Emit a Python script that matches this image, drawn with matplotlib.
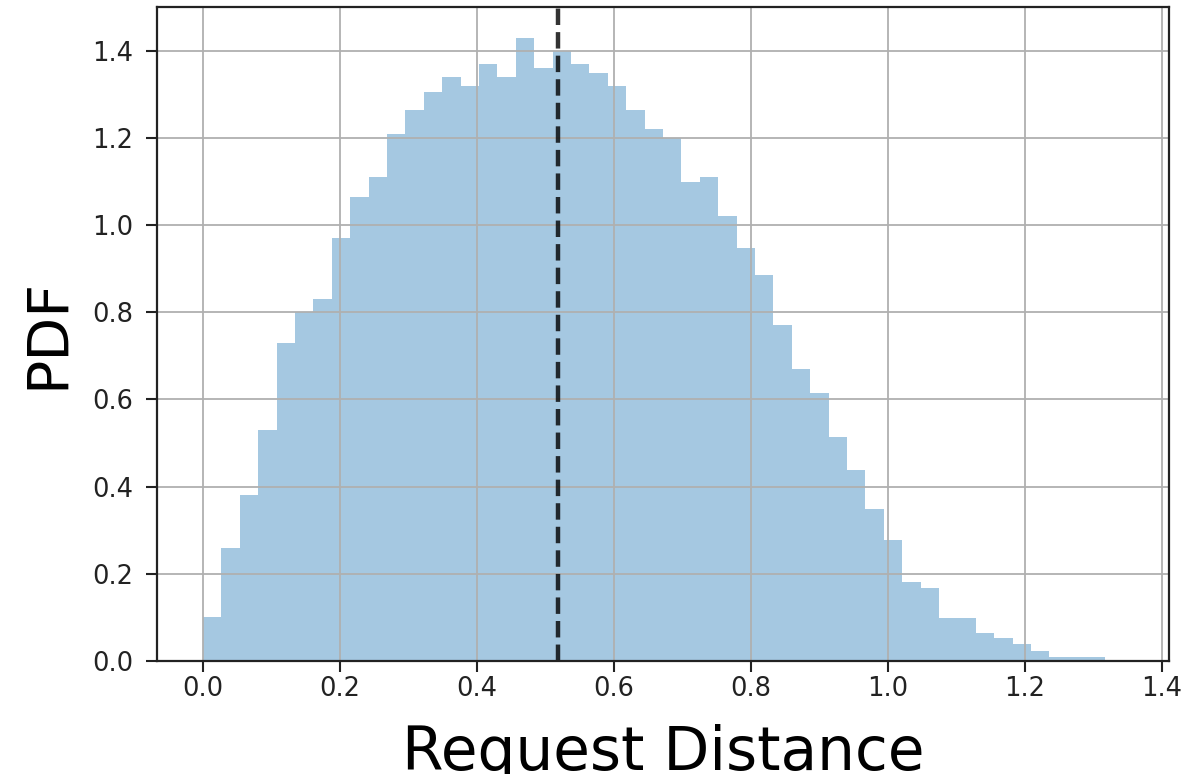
import numpy as np
import matplotlib
matplotlib.use("Agg")
import matplotlib.pyplot as plt

# ── Histogram of request distances (density) ──────────────────────────────
BIN_START = 0.0
BIN_END   = 1.343
PDF_VALUES = [
    0.10, 0.26, 0.38, 0.53, 0.73, 0.80, 0.83, 0.97, 1.065, 1.11,
    1.21, 1.265, 1.305, 1.34, 1.32, 1.37, 1.34, 1.43, 1.36, 1.40,
    1.37, 1.35, 1.32, 1.265, 1.22, 1.20, 1.10, 1.11, 1.02, 0.947,
    0.886, 0.77, 0.67, 0.615, 0.513, 0.438, 0.348, 0.278, 0.182, 0.168,
    0.099, 0.099, 0.064, 0.052, 0.038, 0.024, 0.009, 0.009, 0.009, 0.003,
]
MEAN_DISTANCE = 0.519

X_TICKS = [0.0, 0.2, 0.4, 0.6, 0.8, 1.0, 1.2, 1.4]
Y_TICKS = [0.0, 0.2, 0.4, 0.6, 0.8, 1.0, 1.2, 1.4]

BAR_COL  = "#1f77b4"
GRID_COL = "#b0b0b0"

edges = np.linspace(BIN_START, BIN_END, len(PDF_VALUES) + 1)

fig = plt.figure(figsize=(12.02, 7.74), dpi=100)
ax = fig.add_axes([0.1306, 0.146, 0.8419, 0.8456])

ax.hist(edges[:-1], bins=edges, weights=PDF_VALUES, color=BAR_COL, alpha=0.4)
ax.axvline(MEAN_DISTANCE, color="k", alpha=0.8, linestyle="--", linewidth=3.2)

ax.set_xticks(X_TICKS)
ax.set_yticks(Y_TICKS)
ax.set_xticklabels([f"{t:.1f}" for t in X_TICKS])
ax.set_yticklabels([f"{t:.1f}" for t in Y_TICKS])
ax.grid(True, color=GRID_COL, linewidth=1.3)

ax.tick_params(axis="both", labelsize=18.5, length=8, width=1.5, colors="#222222")
ax.tick_params(axis="x", pad=3)
ax.tick_params(axis="y", pad=9)
for spine in ax.spines.values():
    spine.set_linewidth(1.6)
    spine.set_color("#222222")

ax.set_xlabel("Request Distance", fontsize=43, labelpad=16)
ax.set_ylabel("PDF", fontsize=41, labelpad=12)

fig.savefig("out.png", dpi=100)
